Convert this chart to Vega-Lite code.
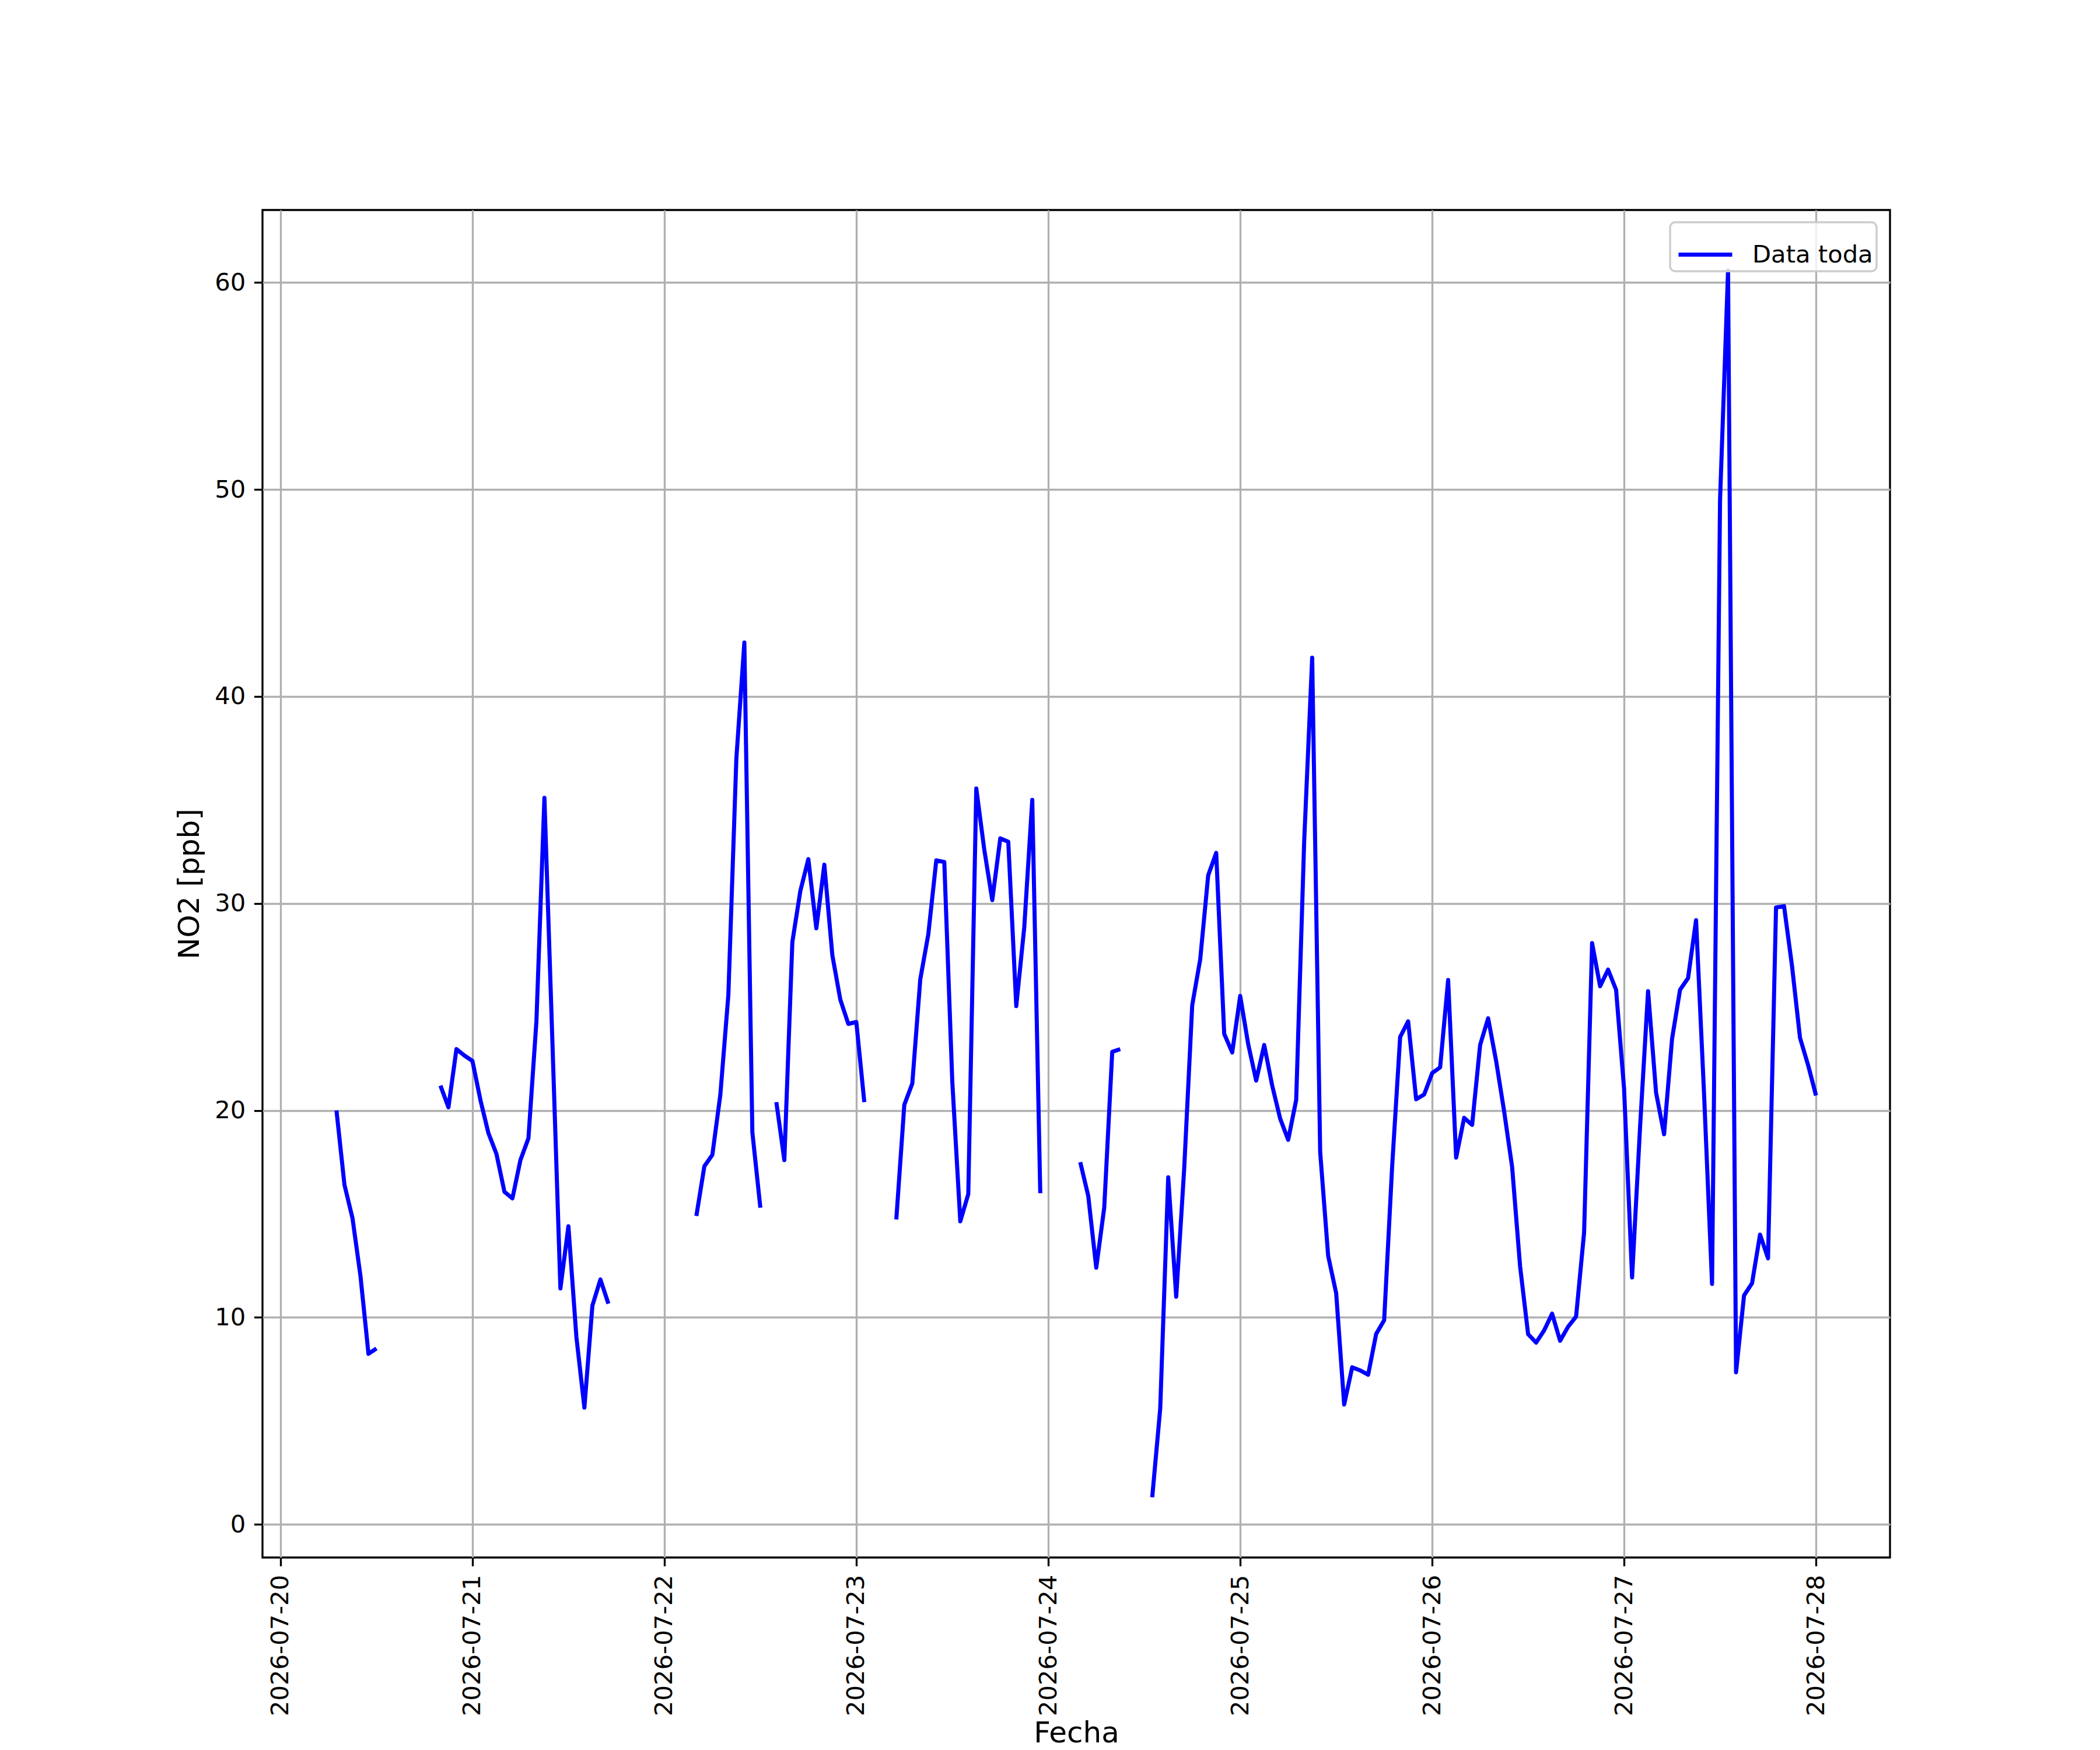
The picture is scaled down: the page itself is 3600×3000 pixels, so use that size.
{
  "$schema": "https://vega.github.io/schema/vega-lite/v6.json",
  "width": 2790,
  "height": 2310,
  "autosize": {"type": "none"},
  "padding": {"left": 450, "top": 360, "right": 360, "bottom": 330},
  "background": "white",
  "config": {
    "font": "DejaVu Sans",
    "view": {"stroke": "black", "strokeWidth": 3.33},
    "legend": {"strokeWidth": 3.33},
    "axis": {
      "domain": false,
      "grid": true,
      "gridColor": "#b0b0b0",
      "gridWidth": 3.33,
      "ticks": true,
      "tickColor": "black",
      "tickWidth": 3.33,
      "tickSize": 14.6,
      "labelFont": "DejaVu Sans",
      "labelFontSize": 41.7,
      "labelColor": "black",
      "labelPadding": 14.6,
      "labelLimit": 400,
      "titleFont": "DejaVu Sans",
      "titleFontSize": 50,
      "titleFontWeight": "normal",
      "titleColor": "black",
      "titlePadding": 17
    }
  },
  "data": {
    "values": [
      {"t": "2026-07-20T07:00:00Z", "no2": 20.0},
      {"t": "2026-07-20T08:00:00Z", "no2": 16.4},
      {"t": "2026-07-20T09:00:00Z", "no2": 14.8},
      {"t": "2026-07-20T10:00:00Z", "no2": 12.0},
      {"t": "2026-07-20T11:00:00Z", "no2": 8.24},
      {"t": "2026-07-20T12:00:00Z", "no2": 8.5},
      {"t": "2026-07-20T13:00:00Z", "no2": null},
      {"t": "2026-07-20T20:00:00Z", "no2": 21.2},
      {"t": "2026-07-20T21:00:00Z", "no2": 20.15},
      {"t": "2026-07-20T22:00:00Z", "no2": 22.96},
      {"t": "2026-07-20T23:00:00Z", "no2": 22.65},
      {"t": "2026-07-21T00:00:00Z", "no2": 22.39},
      {"t": "2026-07-21T01:00:00Z", "no2": 20.5},
      {"t": "2026-07-21T02:00:00Z", "no2": 18.9},
      {"t": "2026-07-21T03:00:00Z", "no2": 17.9},
      {"t": "2026-07-21T04:00:00Z", "no2": 16.07},
      {"t": "2026-07-21T05:00:00Z", "no2": 15.75},
      {"t": "2026-07-21T06:00:00Z", "no2": 17.6},
      {"t": "2026-07-21T07:00:00Z", "no2": 18.65},
      {"t": "2026-07-21T08:00:00Z", "no2": 24.3},
      {"t": "2026-07-21T09:00:00Z", "no2": 35.1},
      {"t": "2026-07-21T10:00:00Z", "no2": 23.3},
      {"t": "2026-07-21T11:00:00Z", "no2": 11.4},
      {"t": "2026-07-21T12:00:00Z", "no2": 14.4},
      {"t": "2026-07-21T13:00:00Z", "no2": 9.05},
      {"t": "2026-07-21T14:00:00Z", "no2": 5.64},
      {"t": "2026-07-21T15:00:00Z", "no2": 10.57},
      {"t": "2026-07-21T16:00:00Z", "no2": 11.83},
      {"t": "2026-07-21T17:00:00Z", "no2": 10.66},
      {"t": "2026-07-21T18:00:00Z", "no2": null},
      {"t": "2026-07-22T04:00:00Z", "no2": 14.9},
      {"t": "2026-07-22T05:00:00Z", "no2": 17.3},
      {"t": "2026-07-22T06:00:00Z", "no2": 17.85},
      {"t": "2026-07-22T07:00:00Z", "no2": 20.77},
      {"t": "2026-07-22T08:00:00Z", "no2": 25.57},
      {"t": "2026-07-22T09:00:00Z", "no2": 37.0},
      {"t": "2026-07-22T10:00:00Z", "no2": 42.6},
      {"t": "2026-07-22T11:00:00Z", "no2": 18.95},
      {"t": "2026-07-22T12:00:00Z", "no2": 15.3},
      {"t": "2026-07-22T13:00:00Z", "no2": null},
      {"t": "2026-07-22T14:00:00Z", "no2": 20.4},
      {"t": "2026-07-22T15:00:00Z", "no2": 17.6},
      {"t": "2026-07-22T16:00:00Z", "no2": 28.13},
      {"t": "2026-07-22T17:00:00Z", "no2": 30.6},
      {"t": "2026-07-22T18:00:00Z", "no2": 32.14},
      {"t": "2026-07-22T19:00:00Z", "no2": 28.8},
      {"t": "2026-07-22T20:00:00Z", "no2": 31.87},
      {"t": "2026-07-22T21:00:00Z", "no2": 27.5},
      {"t": "2026-07-22T22:00:00Z", "no2": 25.35},
      {"t": "2026-07-22T23:00:00Z", "no2": 24.18},
      {"t": "2026-07-23T00:00:00Z", "no2": 24.27},
      {"t": "2026-07-23T01:00:00Z", "no2": 20.4},
      {"t": "2026-07-23T02:00:00Z", "no2": null},
      {"t": "2026-07-23T05:00:00Z", "no2": 14.73},
      {"t": "2026-07-23T06:00:00Z", "no2": 20.27},
      {"t": "2026-07-23T07:00:00Z", "no2": 21.3},
      {"t": "2026-07-23T08:00:00Z", "no2": 26.34},
      {"t": "2026-07-23T09:00:00Z", "no2": 28.5},
      {"t": "2026-07-23T10:00:00Z", "no2": 32.08},
      {"t": "2026-07-23T11:00:00Z", "no2": 32.0},
      {"t": "2026-07-23T12:00:00Z", "no2": 21.4},
      {"t": "2026-07-23T13:00:00Z", "no2": 14.64},
      {"t": "2026-07-23T14:00:00Z", "no2": 15.96},
      {"t": "2026-07-23T15:00:00Z", "no2": 35.55},
      {"t": "2026-07-23T16:00:00Z", "no2": 32.6},
      {"t": "2026-07-23T17:00:00Z", "no2": 30.16},
      {"t": "2026-07-23T18:00:00Z", "no2": 33.14},
      {"t": "2026-07-23T19:00:00Z", "no2": 32.98},
      {"t": "2026-07-23T20:00:00Z", "no2": 25.04},
      {"t": "2026-07-23T21:00:00Z", "no2": 28.85},
      {"t": "2026-07-23T22:00:00Z", "no2": 35.0},
      {"t": "2026-07-23T23:00:00Z", "no2": 16.0},
      {"t": "2026-07-24T00:00:00Z", "no2": null},
      {"t": "2026-07-24T04:00:00Z", "no2": 17.5},
      {"t": "2026-07-24T05:00:00Z", "no2": 15.87},
      {"t": "2026-07-24T06:00:00Z", "no2": 12.4},
      {"t": "2026-07-24T07:00:00Z", "no2": 15.3},
      {"t": "2026-07-24T08:00:00Z", "no2": 22.83},
      {"t": "2026-07-24T09:00:00Z", "no2": 22.96},
      {"t": "2026-07-24T10:00:00Z", "no2": null},
      {"t": "2026-07-24T13:00:00Z", "no2": 1.31},
      {"t": "2026-07-24T14:00:00Z", "no2": 5.6},
      {"t": "2026-07-24T15:00:00Z", "no2": 16.77},
      {"t": "2026-07-24T16:00:00Z", "no2": 11.0},
      {"t": "2026-07-24T17:00:00Z", "no2": 17.2},
      {"t": "2026-07-24T18:00:00Z", "no2": 25.08},
      {"t": "2026-07-24T19:00:00Z", "no2": 27.3},
      {"t": "2026-07-24T20:00:00Z", "no2": 31.36},
      {"t": "2026-07-24T21:00:00Z", "no2": 32.44},
      {"t": "2026-07-24T22:00:00Z", "no2": 23.7},
      {"t": "2026-07-24T23:00:00Z", "no2": 22.8},
      {"t": "2026-07-25T00:00:00Z", "no2": 25.53},
      {"t": "2026-07-25T01:00:00Z", "no2": 23.2},
      {"t": "2026-07-25T02:00:00Z", "no2": 21.44},
      {"t": "2026-07-25T03:00:00Z", "no2": 23.16},
      {"t": "2026-07-25T04:00:00Z", "no2": 21.2},
      {"t": "2026-07-25T05:00:00Z", "no2": 19.6},
      {"t": "2026-07-25T06:00:00Z", "no2": 18.58},
      {"t": "2026-07-25T07:00:00Z", "no2": 20.5},
      {"t": "2026-07-25T08:00:00Z", "no2": 33.0},
      {"t": "2026-07-25T09:00:00Z", "no2": 41.87},
      {"t": "2026-07-25T10:00:00Z", "no2": 17.99},
      {"t": "2026-07-25T11:00:00Z", "no2": 12.97},
      {"t": "2026-07-25T12:00:00Z", "no2": 11.17},
      {"t": "2026-07-25T13:00:00Z", "no2": 5.79},
      {"t": "2026-07-25T14:00:00Z", "no2": 7.59},
      {"t": "2026-07-25T15:00:00Z", "no2": 7.44},
      {"t": "2026-07-25T16:00:00Z", "no2": 7.23},
      {"t": "2026-07-25T17:00:00Z", "no2": 9.2},
      {"t": "2026-07-25T18:00:00Z", "no2": 9.86},
      {"t": "2026-07-25T19:00:00Z", "no2": 17.3},
      {"t": "2026-07-25T20:00:00Z", "no2": 23.55},
      {"t": "2026-07-25T21:00:00Z", "no2": 24.3},
      {"t": "2026-07-25T22:00:00Z", "no2": 20.54},
      {"t": "2026-07-25T23:00:00Z", "no2": 20.77},
      {"t": "2026-07-26T00:00:00Z", "no2": 21.8},
      {"t": "2026-07-26T01:00:00Z", "no2": 22.08},
      {"t": "2026-07-26T02:00:00Z", "no2": 26.3},
      {"t": "2026-07-26T03:00:00Z", "no2": 17.72},
      {"t": "2026-07-26T04:00:00Z", "no2": 19.64},
      {"t": "2026-07-26T05:00:00Z", "no2": 19.3},
      {"t": "2026-07-26T06:00:00Z", "no2": 23.16},
      {"t": "2026-07-26T07:00:00Z", "no2": 24.45},
      {"t": "2026-07-26T08:00:00Z", "no2": 22.39},
      {"t": "2026-07-26T09:00:00Z", "no2": 19.96},
      {"t": "2026-07-26T10:00:00Z", "no2": 17.27},
      {"t": "2026-07-26T11:00:00Z", "no2": 12.46},
      {"t": "2026-07-26T12:00:00Z", "no2": 9.19},
      {"t": "2026-07-26T13:00:00Z", "no2": 8.78},
      {"t": "2026-07-26T14:00:00Z", "no2": 9.37},
      {"t": "2026-07-26T15:00:00Z", "no2": 10.18},
      {"t": "2026-07-26T16:00:00Z", "no2": 8.87},
      {"t": "2026-07-26T17:00:00Z", "no2": 9.55},
      {"t": "2026-07-26T18:00:00Z", "no2": 10.04},
      {"t": "2026-07-26T19:00:00Z", "no2": 14.1},
      {"t": "2026-07-26T20:00:00Z", "no2": 28.08},
      {"t": "2026-07-26T21:00:00Z", "no2": 26.0},
      {"t": "2026-07-26T22:00:00Z", "no2": 26.8},
      {"t": "2026-07-26T23:00:00Z", "no2": 25.83},
      {"t": "2026-07-27T00:00:00Z", "no2": 21.04},
      {"t": "2026-07-27T01:00:00Z", "no2": 11.93},
      {"t": "2026-07-27T02:00:00Z", "no2": 19.2},
      {"t": "2026-07-27T03:00:00Z", "no2": 25.76},
      {"t": "2026-07-27T04:00:00Z", "no2": 20.86},
      {"t": "2026-07-27T05:00:00Z", "no2": 18.85},
      {"t": "2026-07-27T06:00:00Z", "no2": 23.46},
      {"t": "2026-07-27T07:00:00Z", "no2": 25.83},
      {"t": "2026-07-27T08:00:00Z", "no2": 26.39},
      {"t": "2026-07-27T09:00:00Z", "no2": 29.19},
      {"t": "2026-07-27T10:00:00Z", "no2": 20.8},
      {"t": "2026-07-27T11:00:00Z", "no2": 11.62},
      {"t": "2026-07-27T12:00:00Z", "no2": 49.5},
      {"t": "2026-07-27T13:00:00Z", "no2": 60.57},
      {"t": "2026-07-27T14:00:00Z", "no2": 7.35},
      {"t": "2026-07-27T15:00:00Z", "no2": 11.06},
      {"t": "2026-07-27T16:00:00Z", "no2": 11.65},
      {"t": "2026-07-27T17:00:00Z", "no2": 14.0},
      {"t": "2026-07-27T18:00:00Z", "no2": 12.85},
      {"t": "2026-07-27T19:00:00Z", "no2": 29.8},
      {"t": "2026-07-27T20:00:00Z", "no2": 29.87},
      {"t": "2026-07-27T21:00:00Z", "no2": 26.97},
      {"t": "2026-07-27T22:00:00Z", "no2": 23.5},
      {"t": "2026-07-27T23:00:00Z", "no2": 22.2},
      {"t": "2026-07-28T00:00:00Z", "no2": 20.72}
    ]
  },
  "mark": {
    "type": "line",
    "strokeWidth": 7,
    "strokeJoin": "round",
    "strokeCap": "butt",
    "invalid": "break-paths-show-domains"
  },
  "encoding": {
    "x": {
      "field": "t",
      "type": "temporal",
      "scale": {
        "type": "utc",
        "domain": [
          {"year": 2026, "month": 7, "date": 19, "hours": 21, "minutes": 45, "utc": true},
          {"year": 2026, "month": 7, "date": 28, "hours": 9, "minutes": 15, "utc": true}
        ]
      },
      "axis": {
        "title": "Fecha",
        "values": [
          {"year": 2026, "month": 7, "date": 20, "utc": true},
          {"year": 2026, "month": 7, "date": 21, "utc": true},
          {"year": 2026, "month": 7, "date": 22, "utc": true},
          {"year": 2026, "month": 7, "date": 23, "utc": true},
          {"year": 2026, "month": 7, "date": 24, "utc": true},
          {"year": 2026, "month": 7, "date": 25, "utc": true},
          {"year": 2026, "month": 7, "date": 26, "utc": true},
          {"year": 2026, "month": 7, "date": 27, "utc": true},
          {"year": 2026, "month": 7, "date": 28, "utc": true}
        ],
        "format": "%Y-%m-%d",
        "labelAngle": -90,
        "labelLimit": 400,
        "labelOverlap": false,
        "labelFlush": false,
        "titleY": 316,
        "titleBaseline": "alphabetic"
      }
    },
    "y": {
      "field": "no2",
      "type": "quantitative",
      "scale": {"domain": [-1.6, 63.5], "nice": false, "zero": false},
      "axis": {
        "title": "NO2 [ppb]",
        "values": [0, 10, 20, 30, 40, 50, 60],
        "labelOverlap": false,
        "labelFlush": false
      }
    },
    "color": {
      "datum": "Data toda",
      "type": "nominal",
      "scale": {"range": ["#0000ff"]},
      "legend": {
        "title": null,
        "orient": "none",
        "legendX": 2413,
        "legendY": 21,
        "symbolType": "stroke",
        "symbolSize": 8464,
        "symbolStrokeWidth": 7,
        "symbolOffset": 5,
        "labelFont": "DejaVu Sans",
        "labelFontSize": 41.7,
        "labelColor": "black",
        "labelLimit": 0,
        "labelOffset": 31,
        "padding": 6,
        "strokeColor": "#cccccc",
        "cornerRadius": 9,
        "fillColor": "rgba(255,255,255,0.8)"
      }
    }
  }
}
